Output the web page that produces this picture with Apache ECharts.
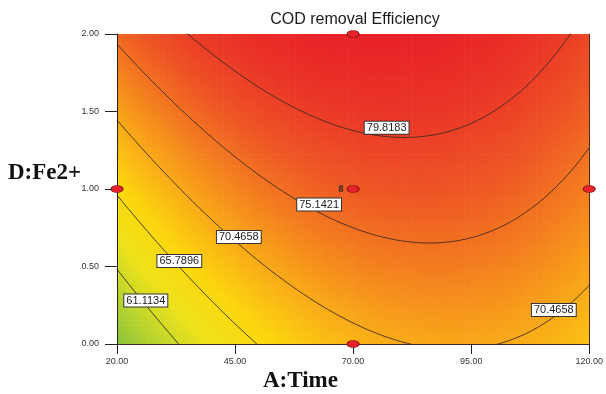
<!DOCTYPE html>
<html>
<head>
<meta charset="utf-8">
<title>COD removal Efficiency</title>
<script src="https://cdn.jsdelivr.net/npm/echarts@6/dist/echarts.min.js"></script>
<style>
  html, body { margin: 0; padding: 0; background: #fff; }
  #chart { width: 606px; height: 394px; }
</style>
</head>
<body>
<div id="chart"></div>
<script>
// axis ticks
const A_TICKS = [20, 45, 70, 95, 120];
const D_TICKS = [0, 0.5, 1, 1.5, 2];
// quadratic response model (coded units: x=(A-70)/50, y=D-1)
// [b0, bA, bD, bAD, bAA, bDD]
const COEFS = [77.02, 3.79, 7.47, -2.24, -7.05, -0.13];
// contour levels shown
const LEVELS = [61.1134, 65.7896, 70.4658, 75.1421, 79.8183];
// where the level labels sit: [A, D, level index]
const LABEL_AT = [[26.1, 0.28, 0], [33.2, 0.535, 1], [45.8, 0.69, 2], [112.5, 0.22, 2], [62.8, 0.90, 3], [77.1, 1.395, 4]];
// design points and the centre replicate count
const DESIGN_POINTS = [[70, 2], [20, 1], [70, 1], [120, 1], [70, 0]];
const CENTER_RUNS = 8;

const NX = 80, NY = 52;
const CELL_A = 100 / NX, CELL_D = 2 / NY;

function surface(A, D) {
  const x = (A - 70) / 50, y = D - 1;
  const [b0, b1, b2, b12, b11, b22] = COEFS;
  return b0 + b1 * x + b2 * y + b12 * x * y + b11 * x * x + b22 * y * y;
}

// D on a contour for a given A (model is monotonic in D here)
function contourD(A, level) {
  const x = (A - 70) / 50;
  const [b0, b1, b2, b12, b11, b22] = COEFS;
  const a = b22, b = b2 + b12 * x, c = b0 + b1 * x + b11 * x * x - level;
  const disc = b * b - 4 * a * c;
  if (disc < 0) return null;
  const y = (-2 * c) / (b + Math.sqrt(disc));
  return Math.max(-1, Math.min(3, y + 1));
}

const cells = [];
for (let i = 0; i < NX; i++) {
  for (let j = 0; j < NY; j++) {
    const A = 20 + (i + 0.5) * CELL_A;
    const D = (j + 0.5) * CELL_D;
    cells.push([A, D, surface(A, D)]);
  }
}

const contourSeries = LEVELS.map((lv) => {
  const pts = [];
  for (let A = 20; A <= 120.001; A += 0.25) {
    const d = contourD(A, lv);
    pts.push(d === null ? [A, null] : [A, d]);
  }
  return {
    type: 'line',
    data: pts,
    showSymbol: false,
    symbol: 'none',
    clip: true,
    silent: true,
    z: 3,
    lineStyle: { color: '#3b2b25', width: 0.9 }
  };
});

const labelData = LABEL_AT.map(([A, D, k]) => ({
  value: [A, D],
  label: { formatter: LEVELS[k].toFixed(4) }
}));

function renderCell(params, api) {
  const p = api.coord([api.value(0) - CELL_A / 2, api.value(1) + CELL_D / 2]);
  const q = api.coord([api.value(0) + CELL_A / 2, api.value(1) - CELL_D / 2]);
  return {
    type: 'rect',
    shape: { x: p[0], y: p[1], width: q[0] - p[0] + 0.6, height: q[1] - p[1] + 0.6 },
    style: { fill: api.visual('color') }
  };
}

const fmt2 = (v) => Number(v).toFixed(2);
const tickStyle = { color: '#222', width: 1 };

const option = {
  animation: false,
  textStyle: { fontFamily: 'Liberation Sans' },
  grid: { left: 117, right: 13, top: 34, bottom: 50 },
  visualMap: {
    show: false,
    type: 'continuous',
    seriesIndex: 0,
    dimension: 2,
    min: 56,
    max: 84.5,
    inRange: {
      color: ['#84bf3c', '#b8d42e', '#eee21a', '#fcd60e', '#f9ad17', '#f4801f', '#ee5525', '#ea3527', '#e82128']
    }
  },
  xAxis: [{
    type: 'value', min: 20, max: 120, z: 10,
    axisLine: { show: true, lineStyle: tickStyle },
    axisTick: { show: true, length: 10, lineStyle: tickStyle, customValues: A_TICKS },
    axisLabel: { customValues: A_TICKS, formatter: fmt2, fontSize: 9, color: '#333', margin: 13 },
    splitLine: { show: false }
  }, {
    type: 'value', min: 20, max: 120, position: 'top', z: 10,
    axisLine: { show: true, lineStyle: { color: '#4a2a25', width: 1 } },
    axisTick: { show: false }, axisLabel: { show: false }, splitLine: { show: false }
  }],
  yAxis: [{
    type: 'value', min: 0, max: 2, interval: 0.5, z: 10,
    axisLine: { show: true, lineStyle: tickStyle },
    axisTick: { show: true, length: 12, lineStyle: tickStyle, customValues: D_TICKS },
    axisLabel: { customValues: D_TICKS, formatter: fmt2, fontSize: 9, color: '#333', margin: 18 },
    splitLine: { show: false }
  }, {
    type: 'value', min: 0, max: 2, position: 'right', z: 10,
    axisLine: { show: true, lineStyle: { color: '#4a2a25', width: 1 } },
    axisTick: { show: false }, axisLabel: { show: false }, splitLine: { show: false }
  }],
  graphic: [
    { type: 'text', x: 355, y: 20, style: { text: 'COD removal Efficiency', font: '16px "Liberation Sans"', fill: '#1a1a1a', align: 'center', verticalAlign: 'middle' } },
    { type: 'text', x: 8, y: 173, style: { text: 'D:Fe2+', font: 'bold 23px "Liberation Serif"', fill: '#111', align: 'left', verticalAlign: 'middle' } },
    { type: 'text', x: 263, y: 381, style: { text: 'A:Time', font: 'bold 23px "Liberation Serif"', fill: '#111', align: 'left', verticalAlign: 'middle' } }
  ],
  series: [
    {
      type: 'custom',
      renderItem: renderCell,
      data: cells,
      clip: true,
      silent: true,
      z: 1
    },
    ...contourSeries,
    {
      type: 'scatter',
      data: labelData,
      symbolSize: 2,
      itemStyle: { color: 'rgba(0,0,0,0)', opacity: 1 },
      clip: false,
      silent: true,
      z: 5,
      label: {
        show: true,
        position: 'inside',
        fontSize: 11,
        color: '#222',
        opacity: 1,
        backgroundColor: '#ffffff',
        borderColor: '#333',
        borderWidth: 1,
        padding: [1, 2, 0, 2]
      },
      labelLayout: { hideOverlap: false }
    },
    {
      type: 'scatter',
      data: DESIGN_POINTS.map(([A, D]) => ({
        value: [A, D],
        label: A === 70 && D === 1 ? {
          show: true, position: 'left', distance: 3, formatter: String(CENTER_RUNS),
          fontFamily: 'Liberation Serif', fontWeight: 'bold', fontSize: 10, color: '#222'
        } : { show: false }
      })),
      symbol: 'circle',
      symbolSize: [12, 7],
      clip: false,
      z: 12,
      itemStyle: { color: '#e8222a', borderColor: '#7a1010', borderWidth: 0.8, opacity: 1 }
    }
  ]
};

echarts.init(document.getElementById('chart'), null, { renderer: 'canvas' }).setOption(option);
</script>
</body>
</html>
